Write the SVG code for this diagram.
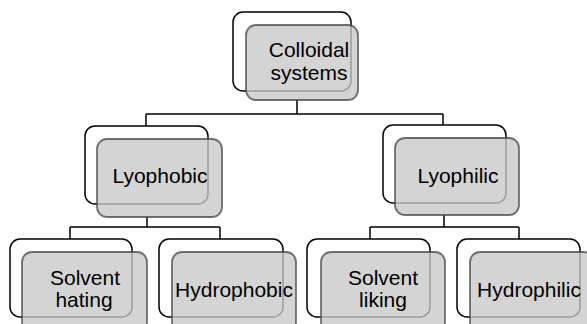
<svg xmlns="http://www.w3.org/2000/svg" width="587" height="324" viewBox="0 0 587 324">
<style>
.o{fill:#fff;stroke:#000;stroke-width:1.5}
.g{fill:#c8c8c8;fill-opacity:0.78;stroke:#444;stroke-opacity:0.75;stroke-width:1.8}
.t{font-family:"Liberation Sans",Arial,sans-serif;font-size:21px;fill:#000;text-anchor:middle}
.c{fill:none;stroke:#000;stroke-width:1.5}
</style>
<rect width="587" height="324" fill="#fff"/>
<g id="connectors">
<path class="c" d="M297,100V114M146,114H443M146,114V126M443,114V125"/>
<path class="c" d="M147,217V227M70,227H220M70,227V239M220,227V239"/>
<path class="c" d="M444,215V227M370,227H519M370,227V239M519,227V239"/>
</g>
<g id="colloidal">
<rect class="o" x="233" y="12" width="118" height="79" rx="10"/>
<rect class="g" x="246" y="25" width="112" height="75" rx="10"/>
<text class="t" x="309" y="57">Colloidal</text>
<text class="t" x="309" y="80">systems</text>
</g>
<g id="lyophobic">
<rect class="o" x="85" y="126" width="123" height="78" rx="10"/>
<rect class="g" x="97" y="139" width="125" height="78" rx="10"/>
<text class="t" x="160" y="183">Lyophobic</text>
</g>
<g id="lyophilic">
<rect class="o" x="383" y="125" width="123" height="78" rx="10"/>
<rect class="g" x="395" y="138" width="124" height="77" rx="10"/>
<text class="t" x="458" y="183">Lyophilic</text>
</g>
<g id="solvent-hating">
<rect class="o" x="10" y="239" width="122" height="78" rx="10"/>
<rect class="g" x="22" y="252" width="125" height="80" rx="10"/>
<text class="t" x="85" y="285">Solvent</text>
<text class="t" x="84" y="307">hating</text>
</g>
<g id="hydrophobic">
<rect class="o" x="159" y="239" width="124" height="78" rx="10"/>
<rect class="g" x="172" y="252" width="124" height="80" rx="10"/>
<text class="t" x="234" y="297">Hydrophobic</text>
</g>
<g id="solvent-liking">
<rect class="o" x="307" y="239" width="123" height="78" rx="10"/>
<rect class="g" x="321" y="252" width="124" height="80" rx="10"/>
<text class="t" x="383" y="285">Solvent</text>
<text class="t" x="383" y="307">liking</text>
</g>
<g id="hydrophilic">
<rect class="o" x="457" y="239" width="123" height="78" rx="10"/>
<rect class="g" x="470" y="252" width="124" height="80" rx="10"/>
<text class="t" x="529" y="297">Hydrophilic</text>
</g>
</svg>
